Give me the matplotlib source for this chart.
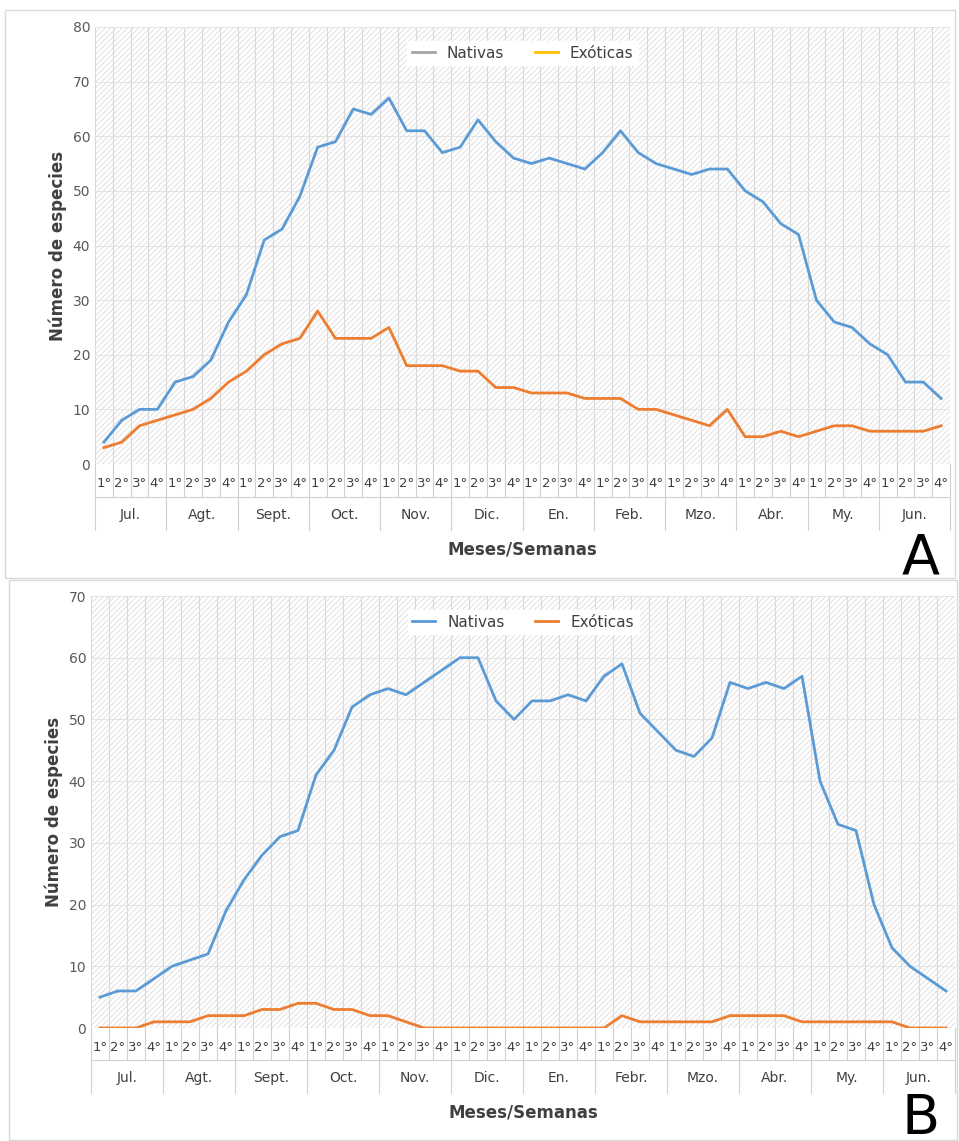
import matplotlib.pyplot as plt
import numpy as np
from matplotlib.patches import Rectangle

months_a = ["Jul.", "Agt.", "Sept.", "Oct.", "Nov.", "Dic.", "En.", "Feb.", "Mzo.", "Abr.", "My.", "Jun."]
months_b = ["Jul.", "Agt.", "Sept.", "Oct.", "Nov.", "Dic.", "En.", "Febr.", "Mzo.", "Abr.", "My.", "Jun."]
weeks = ["1°", "2°", "3°", "4°"]

nat_a = [4, 8, 10, 10, 15, 16, 19, 26, 31, 41, 43, 49, 58, 59, 65, 64,
         67, 61, 61, 57, 58, 63, 59, 56, 55, 56, 55, 54, 57, 61, 57, 55,
         54, 53, 54, 54, 50, 48, 44, 42, 30, 26, 25, 22, 20, 15, 15, 12]
exo_a = [3, 4, 7, 8, 9, 10, 12, 15, 17, 20, 22, 23, 28, 23, 23, 23,
         25, 18, 18, 18, 17, 17, 14, 14, 13, 13, 13, 12, 12, 12, 10, 10,
         9, 8, 7, 10, 5, 5, 6, 5, 6, 7, 7, 6, 6, 6, 6, 7]
nat_b = [5, 6, 6, 8, 10, 11, 12, 19, 24, 28, 31, 32, 41, 45, 52, 54,
         55, 54, 56, 58, 60, 60, 53, 50, 53, 53, 54, 53, 57, 59, 51, 48,
         45, 44, 47, 56, 55, 56, 55, 57, 40, 33, 32, 20, 13, 10, 8, 6]
exo_b = [0, 0, 0, 1, 1, 1, 2, 2, 2, 3, 3, 4, 4, 3, 3, 2,
         2, 1, 0, 0, 0, 0, 0, 0, 0, 0, 0, 0, 0, 2, 1, 1,
         1, 1, 1, 2, 2, 2, 2, 1, 1, 1, 1, 1, 1, 0, 0, 0]

BLUE = "#5b9bd5"
ORANGE = "#ed7d31"
W, H = 959, 1141

plt.rcParams['hatch.linewidth'] = 0.6
fig = plt.figure(figsize=(W / 100, H / 100), dpi=100)


def panel(box, nat, exo, months, ymax, leg_colors, letter, letter_y):
    l, r, t, b = box
    ax = fig.add_axes([l / W, 1 - b / H, (r - l) / W, (b - t) / H])
    n = len(nat)
    x = np.arange(n)
    ax.add_patch(Rectangle((-0.5, 0), n, ymax, facecolor="white", edgecolor="#dcdcdc",
                           hatch="//////", lw=0, zorder=0))
    for xv in np.arange(n + 1) - 0.5:
        ax.axvline(xv, color="#d9d9d9", lw=0.8, zorder=1)
    for yv in range(0, ymax + 1, 10):
        ax.axhline(yv, color="#e0e0e0", lw=0.6, zorder=1)
    ax.plot(x, nat, color=BLUE, lw=2, zorder=3)
    ax.plot(x, exo, color=ORANGE, lw=2, zorder=3)
    ax.set_xlim(-0.5, n - 0.5)
    ax.set_ylim(0, ymax)
    ax.set_yticks(range(0, ymax + 1, 10))
    ax.tick_params(axis="y", length=0, labelsize=10, colors="#595959")
    ax.set_xticks([])
    for s in ax.spines.values():
        s.set_visible(False)
    ax.set_ylabel("Número de especies", fontsize=12, fontweight="bold", color="#404040")
    # two-level axis
    tr = ax.get_xaxis_transform()
    for i in range(n):
        ax.text(i, -0.03, weeks[i % 4], transform=tr, ha="center", va="top", fontsize=9.5, color="#404040")
    for k in range(n + 1):
        xv = k - 0.5
        yb = -0.15 if k % 4 == 0 else -0.075
        ax.plot([xv, xv], [0, yb], transform=tr, color="#d0d0d0", lw=0.8, clip_on=False)
    ax.plot([-0.5, n - 0.5], [-0.075, -0.075], transform=tr, color="#d0d0d0", lw=0.8, clip_on=False)
    for j, m in enumerate(months):
        ax.text(j * 4 + 1.5, -0.1, m, transform=tr, ha="center", va="top", fontsize=10, color="#404040")
    ax.text(0.5, -0.175, "Meses/Semanas", transform=ax.transAxes, ha="center", va="top",
            fontsize=12, fontweight="bold", color="#404040")
    ax.plot([], [], color=leg_colors[0], lw=2, label="Nativas")
    ax.plot([], [], color=leg_colors[1], lw=2, label="Exóticas")
    h, lab = ax.get_legend_handles_labels()
    ax.legend(h[-2:], lab[-2:], loc="upper center", ncol=2, frameon=True, fancybox=False,
              edgecolor="white", framealpha=1, fontsize=11, bbox_to_anchor=(0.5, 0.985), borderpad=0.3,
              handlelength=1.5, labelcolor="#404040")
    fig.text(940 / W, 1 - letter_y / H, letter, fontsize=40, ha="right", va="baseline")


panel((95, 950, 27, 464), nat_a, exo_a, months_a, 80, ["#a5a5a5", "#ffc000"], "A", 574)
panel((91, 955, 596, 1028), nat_b, exo_b, months_b, 70, [BLUE, ORANGE], "B", 1134)

fig.patches.append(Rectangle((5 / W, 1 - 578 / H), 950 / W, 568 / H, transform=fig.transFigure,
                             fill=False, edgecolor="#d9d9d9", lw=1))
fig.patches.append(Rectangle((9 / W, 1 - 1140 / H), 948 / W, 560 / H, transform=fig.transFigure,
                             fill=False, edgecolor="#d9d9d9", lw=1))

fig.savefig("out.png", dpi=100)
